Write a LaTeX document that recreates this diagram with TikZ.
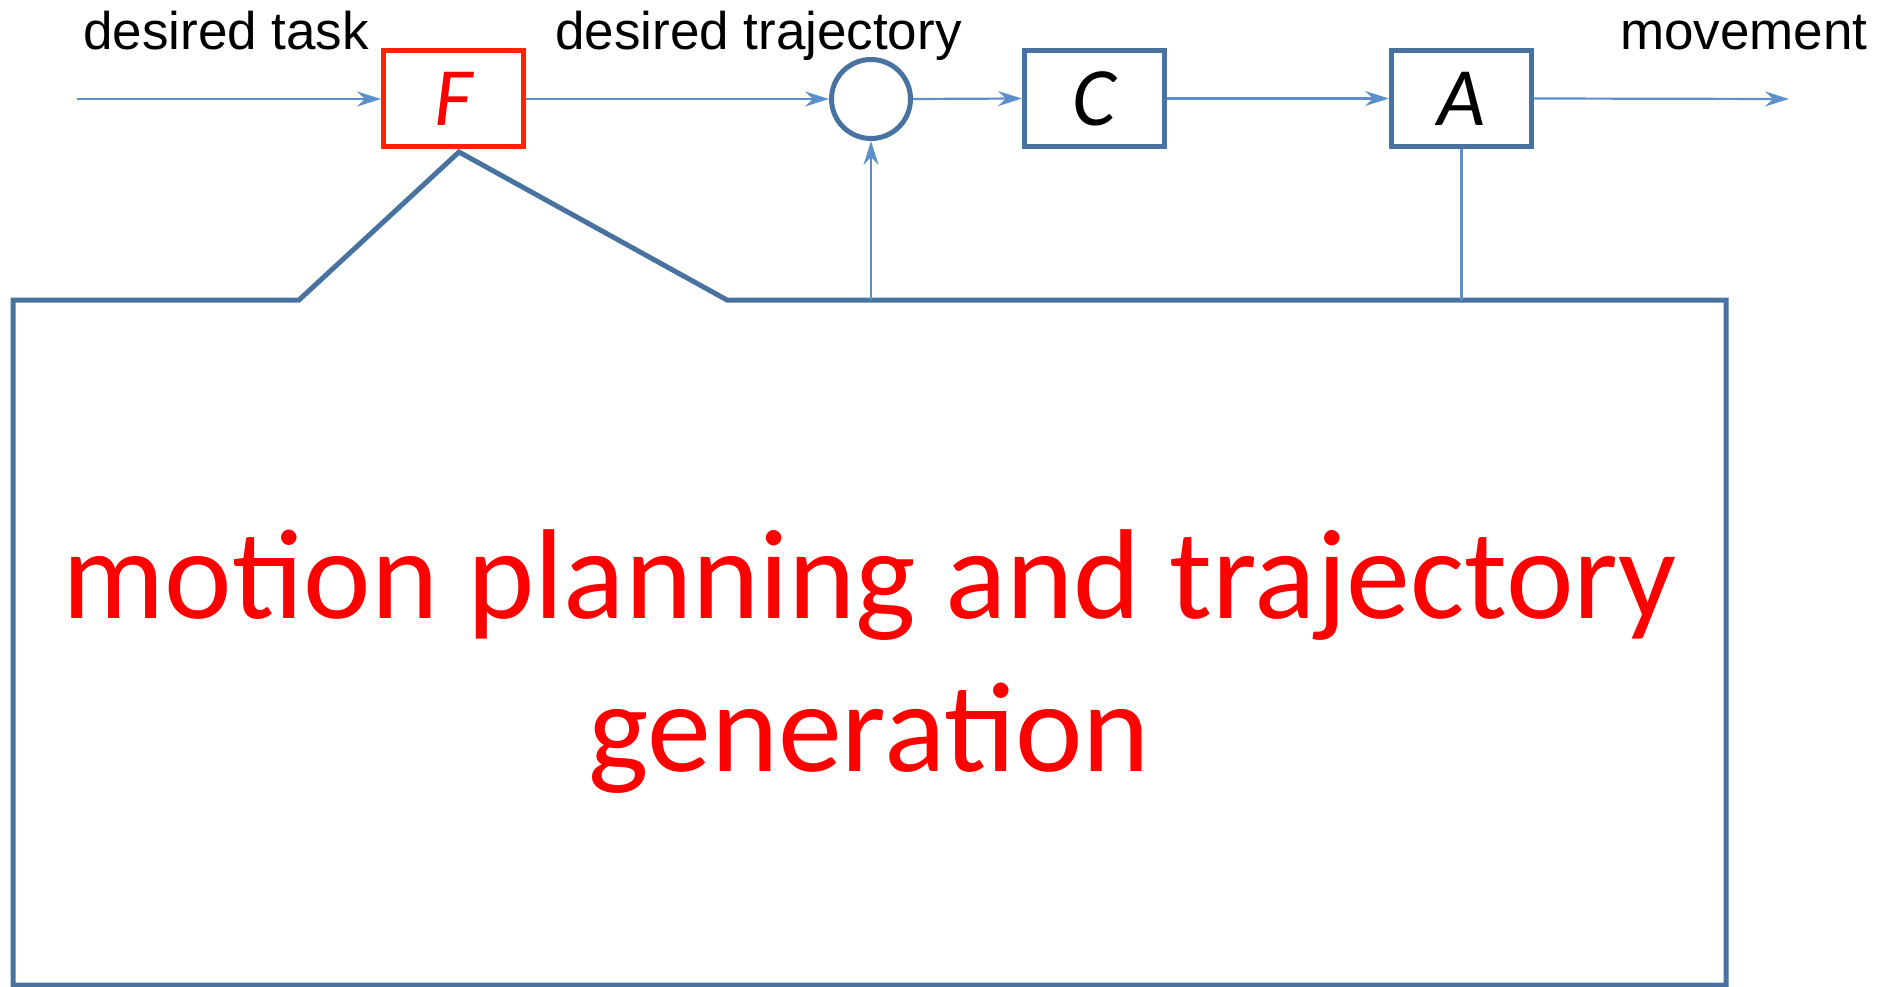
\documentclass[tikz,border=0pt]{standalone}
\usepackage{fontspec}
\setmainfont{Liberation Sans}
\newfontfamily\calib{Carlito}
\usetikzlibrary{arrows.meta}
\definecolor{boxblue}{RGB}{72,115,160}
\definecolor{lineblue}{RGB}{92,143,204}
\definecolor{boxred}{RGB}{255,36,0}
\definecolor{txtred}{RGB}{255,0,0}
\tikzset{
  blockbox/.style={draw=boxblue, line width=5pt, minimum width=140pt, minimum height=96pt, inner sep=0pt, fill=white},
  sig/.style={draw=lineblue, line width=2.2pt, -{Stealth[length=24pt,width=15pt,inset=8pt]}},
  plainsig/.style={draw=lineblue, line width=2.2pt},
  lbl/.style={inner sep=0pt, font=\fontsize{53}{60}\selectfont},
  sym/.style={font=\calib\itshape\fontsize{83}{90}\selectfont},
  bigtxt/.style={inner sep=0pt, text=txtred, font=\calib\fontsize{128}{154}\selectfont}
}
\begin{document}
\begin{tikzpicture}[x=1pt,y=-1pt]
\useasboundingbox (0,0) rectangle (1891,987);
% callout shape
\draw[boxblue, line width=5pt, line join=miter]
  (13,985) -- (13,300) -- (299,300) -- (459,152) -- (727,300) -- (1726,300) -- (1726,985) -- cycle;
% blocks
\node[blockbox, draw=boxred, sym, text=txtred] (F) at (453.5,99) {F};
\node[draw=boxblue, line width=5pt, circle, minimum size=79pt, inner sep=0pt, fill=white] (S) at (871,99) {};
\node[blockbox, sym] (C) at (1094.5,98.5) {C};
\node[blockbox, sym] (A) at (1461.5,98.5) {A};
% coordinates
\coordinate (in) at (77,99);
\coordinate (out) at (1789,99);
\coordinate (fb) at (871,300);
\coordinate (ab) at (1461.5,300);
% connectors
\draw[sig] (in) -- (F.west);
\draw[sig] (F.east) -- (S.west);
\draw[sig] (S.east) -- (C.west);
\draw[sig] (C.east) -- (A.west);
\draw[sig] (A.east) -- (out);
\draw[sig] (fb) -- (S.south);
\draw[plainsig] (A.south) -- (ab);
% labels
\node[lbl, anchor=base west] (l1) at (83,50) {desired task};
\node[lbl, anchor=base west] (l2) at (555,50) {desired trajectory};
\node[lbl, anchor=base west] (l3) at (1620,50) {movement};
% big text
\node[bigtxt, anchor=base] (t1) at (870,618) {motion planning and trajectory};
\node[bigtxt, anchor=base] (t2) at (869,771) {generation};
\end{tikzpicture}
\end{document}
